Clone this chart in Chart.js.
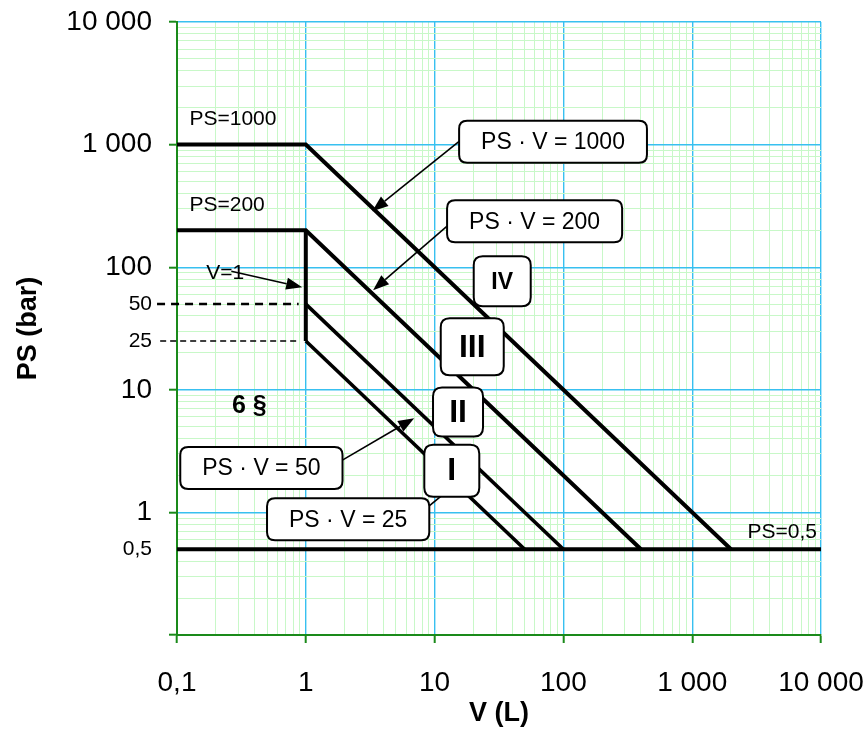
<!DOCTYPE html>
<html>
<head>
<meta charset="utf-8">
<script src="https://cdn.jsdelivr.net/npm/chart.js@4.4.0/dist/chart.umd.min.js"></script>
<style>
  html, body { margin: 0; padding: 0; background: #fff; }
  #wrap { width: 868px; height: 756px; }
</style>
</head>
<body>
<div id="wrap"><canvas id="psChart"></canvas></div>
<script>
// Category boundaries, PS (bar) against V (L), log-log

// boundary lines (V in L, PS in bar)
const lineV1000 = [0.1, 1, 2000];
const linePS1000 = [1000, 1000, 0.5];
const lineV200 = [0.1, 1, 400];
const linePS200 = [200, 200, 0.5];
const lineV50 = [1, 100];
const linePS50 = [50, 0.5];
const lineV25 = [1, 50];
const linePS25 = [25, 0.5];
const lineVv1 = [1, 1];
const linePSv1 = [200, 25];
const lineV05 = [0.1, 10000];
const linePS05 = [0.5, 0.5];
// dashed guides to the 50 / 25 labels
const dashV50 = [0.07, 0.88];
const dashPS50 = [50, 50];
const dashV25 = [0.074, 0.88];
const dashPS25 = [25, 25];

// axis ticks
const xDecades = [0.1, 1, 10, 100, 1000, 10000];
const xLabels = ['0,1', '1', '10', '100', '1 000', '10 000'];
const yDecades = [0.1, 1, 10, 100, 1000, 10000];
const yLabels = ['', '1', '10', '100', '1 000', '10 000'];
const yExtra = [0.5, 25, 50];
const yExtraLabels = ['0,5', '25', '50'];

const FONT = "'Liberation Sans', Arial, sans-serif";
const AXIS_GREEN = '#1a8a1a';
const MAJOR_GRID = '#38c0f0';
const MINOR_GRID = '#c8f8c8';

function pts(vs, ps) {
    return vs.map((v, i) => ({ x: v, y: ps[i] }));
}

// minor grid values 2..9 within each decade
function minorsOf(decades) {
    const out = [];
    for (let i = 0; i < decades.length - 1; i++) {
        for (let k = 2; k <= 9; k++) out.push(Number((decades[i] * k).toPrecision(6)));
    }
    return out;
}

const xLabelOf = new Map(xDecades.map((v, i) => [v, xLabels[i]]));
const yLabelOf = new Map(yDecades.map((v, i) => [v, yLabels[i]]));
yExtra.forEach((v, i) => yLabelOf.set(v, yExtraLabels[i]));

const xTickValues = [...new Set([...xDecades, ...minorsOf(xDecades)])].sort((a, b) => a - b);
const yTickValues = [...new Set([...yDecades, ...minorsOf(yDecades), ...yExtra])].sort((a, b) => a - b);

function lineSet(data, width, dash) {
    return {
        data: data,
        showLine: true,
        borderColor: '#000',
        borderWidth: width,
        borderDash: dash || [],
        pointRadius: 0,
        fill: false,
        tension: 0,
        clip: false
    };
}

// annotations, placed in data coordinates
const freeTexts = [
    { text: 'PS=1000', v: 0.125, ps: 1610, align: 'left', font: '21px ' + FONT },
    { text: 'PS=200', v: 0.125, ps: 321, align: 'left', font: '21px ' + FONT },
    { text: 'V=1', v: 0.169, ps: 89.3, align: 'left', font: '21px ' + FONT },
    { text: '6 §', v: 0.364, ps: 7.4, align: 'center', font: 'bold 25px ' + FONT },
    { text: 'PS=0,5', v: 9310, ps: 0.695, align: 'right', font: '21px ' + FONT }
];
const arrows = [
    { from: [15.5, 1060], to: [3.28, 286] },
    { from: [12.5, 216], to: [3.33, 65] },
    { from: [1.88, 2.63], to: [6.94, 5.87] },
    { from: [7.59, 0.967], to: [17.6, 2.0] },
    { from: [0.264, 92.8], to: [0.938, 68.7] }
];
const labelBoxes = [
    { text: 'PS · V = 1000', v: 15.5, ps: 1055 },
    { text: 'PS · V = 200', v: 12.5, ps: 237 },
    { text: 'PS · V = 50', v: 0.106, ps: 2.3 },
    { text: 'PS · V = 25', v: 0.5, ps: 0.88 }
];
const romanBoxes = [
    { text: 'IV', v: 33.5, ps: 76.9, w: 57, h: 50, size: 23 },
    { text: 'III', v: 19.6, ps: 22.4, w: 63, h: 57, size: 32 },
    { text: 'II', v: 15.2, ps: 6.58, w: 50, h: 49, size: 32 },
    { text: 'I', v: 13.6, ps: 2.19, w: 55, h: 52, size: 32 }
];

function roundBox(ctx, x, y, w, h, r) {
    ctx.beginPath();
    ctx.moveTo(x + r, y);
    ctx.lineTo(x + w - r, y);
    ctx.quadraticCurveTo(x + w, y, x + w, y + r);
    ctx.lineTo(x + w, y + h - r);
    ctx.quadraticCurveTo(x + w, y + h, x + w - r, y + h);
    ctx.lineTo(x + r, y + h);
    ctx.quadraticCurveTo(x, y + h, x, y + h - r);
    ctx.lineTo(x, y + r);
    ctx.quadraticCurveTo(x, y, x + r, y);
    ctx.closePath();
    ctx.fillStyle = '#fff';
    ctx.fill();
    ctx.lineWidth = 2;
    ctx.strokeStyle = '#000';
    ctx.stroke();
}

const notesPlugin = {
    id: 'notes',
    afterDatasetsDraw(chart) {
        const ctx = chart.ctx;
        const sx = chart.scales.x, sy = chart.scales.y;
        const px = (v) => sx.getPixelForValue(v);
        const py = (p) => sy.getPixelForValue(p);
        ctx.save();
        ctx.fillStyle = '#000';
        ctx.textBaseline = 'middle';

        freeTexts.forEach(t => {
            ctx.font = t.font;
            ctx.textAlign = t.align;
            ctx.fillStyle = '#000';
            ctx.fillText(t.text, px(t.v), py(t.ps));
        });

        arrows.forEach(a => {
            const x0 = px(a.from[0]), y0 = py(a.from[1]);
            const x1 = px(a.to[0]), y1 = py(a.to[1]);
            const ang = Math.atan2(y1 - y0, x1 - x0);
            const head = 16, half = 6;
            const bx = x1 - head * Math.cos(ang), by = y1 - head * Math.sin(ang);
            ctx.beginPath();
            ctx.moveTo(x0, y0);
            ctx.lineTo(bx, by);
            ctx.lineWidth = 1.6;
            ctx.strokeStyle = '#000';
            ctx.stroke();
            ctx.beginPath();
            ctx.moveTo(x1, y1);
            ctx.lineTo(bx + half * Math.sin(ang), by - half * Math.cos(ang));
            ctx.lineTo(bx - half * Math.sin(ang), by + half * Math.cos(ang));
            ctx.closePath();
            ctx.fillStyle = '#000';
            ctx.fill();
        });

        labelBoxes.forEach(b => {
            ctx.font = '23px ' + FONT;
            const w = ctx.measureText(b.text).width + 44;
            const h = 42;
            const x = px(b.v), y = py(b.ps);
            roundBox(ctx, x, y - h / 2, w, h, 8);
            ctx.fillStyle = '#000';
            ctx.textAlign = 'center';
            ctx.fillText(b.text, x + w / 2, y + 1);
        });

        romanBoxes.forEach(b => {
            const cx = px(b.v), cy = py(b.ps);
            roundBox(ctx, cx - b.w / 2, cy - b.h / 2, b.w, b.h, 9);
            ctx.font = 'bold ' + b.size + 'px ' + FONT;
            ctx.fillStyle = '#000';
            ctx.textAlign = 'center';
            ctx.fillText(b.text, cx, cy + 1);
        });
        ctx.restore();
    }
};

const ctx = document.getElementById('psChart').getContext('2d');
new Chart(ctx, {
    type: 'scatter',
    data: {
        datasets: [
            lineSet(pts(lineV05, linePS05), 4),
            lineSet(pts(lineV1000, linePS1000), 4),
            lineSet(pts(lineV200, linePS200), 4),
            lineSet(pts(lineVv1, linePSv1), 4),
            lineSet(pts(lineV50, linePS50), 3.6),
            lineSet(pts(lineV25, linePS25), 3.6),
            lineSet(pts(dashV50, dashPS50), 2.5, [8, 6]),
            lineSet(pts(dashV25, dashPS25), 1.5, [6, 4])
        ]
    },
    options: {
        responsive: true,
        maintainAspectRatio: false,
        animation: false,
        layout: { padding: { top: 22, right: 47, bottom: 0, left: 0 } },
        plugins: {
            legend: { display: false },
            tooltip: { enabled: false }
        },
        scales: {
            x: {
                type: 'logarithmic',
                min: 0.1,
                max: 10000,
                afterBuildTicks: (s) => { s.ticks = xTickValues.map(v => ({ value: v })); },
                afterFit: (s) => {
                    s.height = 121;
                    s.paddingLeft = 0;
                    s.paddingRight = 0;
                },
                border: { color: AXIS_GREEN, width: 2 },
                grid: {
                    color: (c) => xLabelOf.has(c.tick.value) ? MAJOR_GRID : MINOR_GRID,
                    lineWidth: (c) => xLabelOf.has(c.tick.value) ? 1.4 : 1,
                    tickLength: 8,
                    tickWidth: 2,
                    tickColor: (c) => xLabelOf.has(c.tick.value) ? AXIS_GREEN : 'rgba(0,0,0,0)'
                },
                ticks: {
                    autoSkip: false,
                    maxRotation: 0,
                    minRotation: 0,
                    padding: 23,
                    color: '#000',
                    font: { family: FONT, size: 28 },
                    callback: (v) => xLabelOf.get(v) || ''
                },
                title: {
                    display: true,
                    text: 'V (L)',
                    color: '#000',
                    font: { family: FONT, size: 27, weight: 'bold' },
                    padding: { top: 0, bottom: 26 }
                }
            },
            y: {
                type: 'logarithmic',
                min: 0.1,
                max: 10000,
                afterBuildTicks: (s) => { s.ticks = yTickValues.map(v => ({ value: v })); },
                afterFit: (s) => {
                    s.width = 177;
                    s.paddingTop = 0;
                    s.paddingBottom = 0;
                },
                border: { color: AXIS_GREEN, width: 2 },
                grid: {
                    color: (c) => {
                        const v = c.tick.value;
                        if (v === 25) return 'rgba(0,0,0,0)';
                        return yDecades.includes(v) ? MAJOR_GRID : MINOR_GRID;
                    },
                    lineWidth: (c) => yDecades.includes(c.tick.value) ? 1.4 : 1,
                    tickLength: 8,
                    tickWidth: 2,
                    tickColor: (c) => yDecades.includes(c.tick.value) ? AXIS_GREEN : 'rgba(0,0,0,0)'
                },
                ticks: {
                    autoSkip: false,
                    padding: 17,
                    color: '#000',
                    font: (c) => ({ family: FONT, size: yDecades.includes(c.tick && c.tick.value) ? 28 : 21 }),
                    callback: (v) => yLabelOf.get(v) || ''
                },
                title: {
                    display: true,
                    text: 'PS (bar)',
                    color: '#000',
                    font: { family: FONT, size: 27, weight: 'bold' },
                    padding: { top: 12, bottom: 0 }
                }
            }
        }
    },
    plugins: [notesPlugin]
});
</script>
</body>
</html>
